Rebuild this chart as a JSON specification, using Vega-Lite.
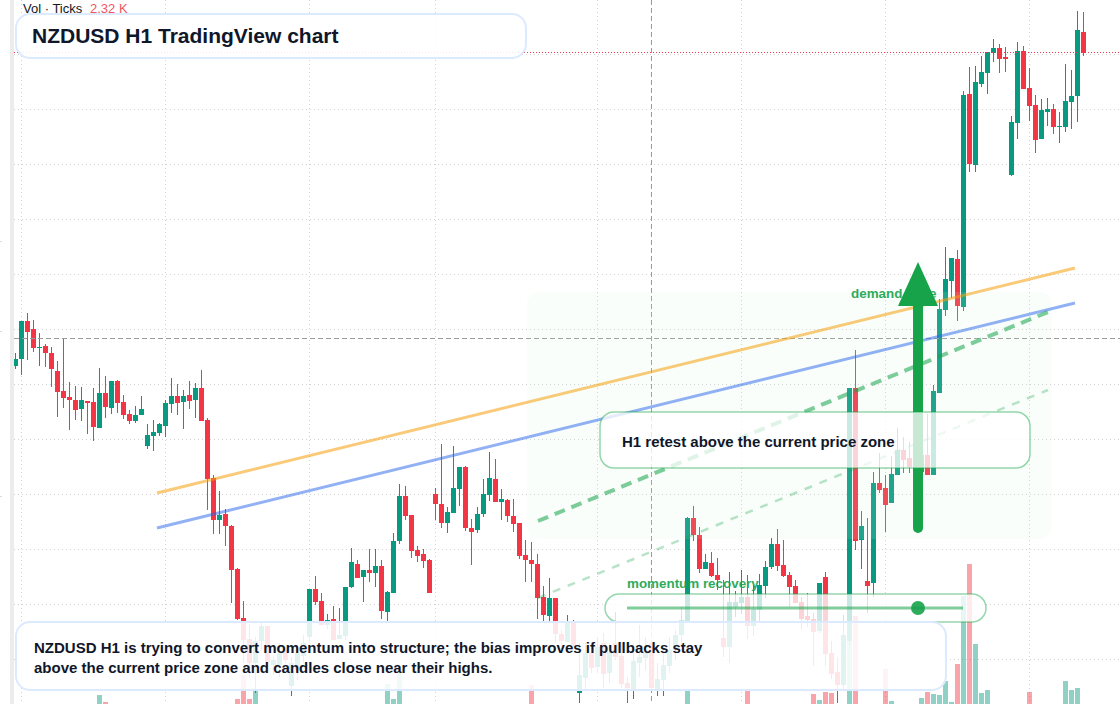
{
"$schema":"https://vega.github.io/schema/vega-lite/v6.json",
"width":1120,"height":704,
"autosize":{"type":"none"},
"padding":0,
"background":"#ffffff",
"config":{"view":{"stroke":null},"scale":{"continuousPadding":0},"text":{"font":"Liberation Sans"}},
"datasets":{
"candles":[
{"bar":0,"dir":"up","open":59634,"high":59647,"low":59631,"close":59641},
{"bar":1,"dir":"up","open":59641,"high":59679,"low":59625,"close":59679},
{"bar":2,"dir":"down","open":59679,"high":59687,"low":59640,"close":59668},
{"bar":3,"dir":"down","open":59671,"high":59680,"low":59648,"close":59652},
{"bar":4,"dir":"up","open":59652,"high":59667,"low":59634,"close":59653},
{"bar":5,"dir":"down","open":59654,"high":59656,"low":59633,"close":59647},
{"bar":6,"dir":"down","open":59647,"high":59653,"low":59613,"close":59631},
{"bar":7,"dir":"down","open":59629,"high":59639,"low":59583,"close":59608},
{"bar":8,"dir":"down","open":59609,"high":59661,"low":59592,"close":59602},
{"bar":9,"dir":"down","open":59603,"high":59618,"low":59570,"close":59600},
{"bar":10,"dir":"down","open":59600,"high":59614,"low":59580,"close":59590},
{"bar":11,"dir":"up","open":59591,"high":59613,"low":59579,"close":59600},
{"bar":12,"dir":"down","open":59599,"high":59599,"low":59566,"close":59597},
{"bar":13,"dir":"down","open":59598,"high":59612,"low":59559,"close":59573},
{"bar":14,"dir":"up","open":59572,"high":59632,"low":59572,"close":59607},
{"bar":15,"dir":"down","open":59607,"high":59624,"low":59582,"close":59593},
{"bar":16,"dir":"up","open":59592,"high":59619,"low":59586,"close":59619},
{"bar":17,"dir":"down","open":59619,"high":59620,"low":59587,"close":59597},
{"bar":18,"dir":"down","open":59598,"high":59605,"low":59581,"close":59585},
{"bar":19,"dir":"down","open":59586,"high":59590,"low":59576,"close":59579},
{"bar":20,"dir":"up","open":59579,"high":59594,"low":59577,"close":59585},
{"bar":21,"dir":"up","open":59585,"high":59604,"low":59585,"close":59591},
{"bar":22,"dir":"up","open":59554,"high":59576,"low":59551,"close":59565},
{"bar":23,"dir":"up","open":59564,"high":59580,"low":59549,"close":59568},
{"bar":24,"dir":"up","open":59567,"high":59577,"low":59564,"close":59576},
{"bar":25,"dir":"up","open":59574,"high":59600,"low":59563,"close":59597},
{"bar":26,"dir":"up","open":59596,"high":59622,"low":59587,"close":59604},
{"bar":27,"dir":"down","open":59604,"high":59616,"low":59585,"close":59597},
{"bar":28,"dir":"up","open":59598,"high":59610,"low":59571,"close":59604},
{"bar":29,"dir":"down","open":59605,"high":59619,"low":59591,"close":59599},
{"bar":30,"dir":"up","open":59600,"high":59617,"low":59582,"close":59612},
{"bar":31,"dir":"down","open":59612,"high":59630,"low":59579,"close":59579},
{"bar":32,"dir":"down","open":59580,"high":59582,"low":59490,"close":59521},
{"bar":33,"dir":"down","open":59522,"high":59525,"low":59466,"close":59480},
{"bar":34,"dir":"up","open":59480,"high":59509,"low":59466,"close":59485},
{"bar":35,"dir":"down","open":59486,"high":59491,"low":59454,"close":59474},
{"bar":36,"dir":"down","open":59474,"high":59475,"low":59397,"close":59430},
{"bar":37,"dir":"down","open":59431,"high":59432,"low":59380,"close":59381},
{"bar":38,"dir":"down","open":59382,"high":59399,"low":59337,"close":59360},
{"bar":39,"dir":"down","open":59361,"high":59376,"low":59322,"close":59337},
{"bar":40,"dir":"up","open":59337,"high":59363,"low":59307,"close":59359},
{"bar":41,"dir":"up","open":59359,"high":59378,"low":59350,"close":59374},
{"bar":42,"dir":"down","open":59374,"high":59374,"low":59330,"close":59338},
{"bar":43,"dir":"up","open":59335,"high":59343,"low":59325,"close":59340},
{"bar":44,"dir":"up","open":59335,"high":59357,"low":59323,"close":59347},
{"bar":45,"dir":"down","open":59350,"high":59353,"low":59337,"close":59340},
{"bar":46,"dir":"up","open":59314,"high":59343,"low":59304,"close":59337},
{"bar":47,"dir":"up","open":59330,"high":59353,"low":59320,"close":59347},
{"bar":48,"dir":"up","open":59344,"high":59365,"low":59337,"close":59357},
{"bar":49,"dir":"up","open":59363,"high":59411,"low":59357,"close":59411},
{"bar":50,"dir":"down","open":59411,"high":59424,"low":59395,"close":59398},
{"bar":51,"dir":"down","open":59399,"high":59407,"low":59375,"close":59375},
{"bar":52,"dir":"up","open":59375,"high":59386,"low":59371,"close":59380},
{"bar":53,"dir":"down","open":59381,"high":59394,"low":59360,"close":59360},
{"bar":54,"dir":"up","open":59361,"high":59392,"low":59361,"close":59365},
{"bar":55,"dir":"up","open":59364,"high":59413,"low":59360,"close":59413},
{"bar":56,"dir":"up","open":59413,"high":59452,"low":59412,"close":59438},
{"bar":57,"dir":"down","open":59436,"high":59440,"low":59422,"close":59422},
{"bar":58,"dir":"up","open":59423,"high":59430,"low":59398,"close":59430},
{"bar":59,"dir":"down","open":59430,"high":59451,"low":59418,"close":59427},
{"bar":60,"dir":"up","open":59427,"high":59451,"low":59413,"close":59434},
{"bar":61,"dir":"down","open":59434,"high":59440,"low":59381,"close":59389},
{"bar":62,"dir":"up","open":59388,"high":59409,"low":59378,"close":59408},
{"bar":63,"dir":"up","open":59407,"high":59467,"low":59407,"close":59459},
{"bar":64,"dir":"up","open":59459,"high":59516,"low":59456,"close":59504},
{"bar":65,"dir":"down","open":59504,"high":59514,"low":59480,"close":59484},
{"bar":66,"dir":"down","open":59485,"high":59485,"low":59442,"close":59449},
{"bar":67,"dir":"down","open":59450,"high":59454,"low":59438,"close":59444},
{"bar":68,"dir":"down","open":59446,"high":59451,"low":59432,"close":59439},
{"bar":69,"dir":"down","open":59440,"high":59441,"low":59407,"close":59407},
{"bar":70,"dir":"down","open":59506,"high":59512,"low":59480,"close":59496},
{"bar":71,"dir":"down","open":59496,"high":59556,"low":59472,"close":59477},
{"bar":72,"dir":"up","open":59477,"high":59493,"low":59467,"close":59488},
{"bar":73,"dir":"up","open":59487,"high":59554,"low":59487,"close":59512},
{"bar":74,"dir":"up","open":59511,"high":59533,"low":59494,"close":59533},
{"bar":75,"dir":"down","open":59533,"high":59534,"low":59469,"close":59472},
{"bar":76,"dir":"down","open":59472,"high":59481,"low":59435,"close":59468},
{"bar":77,"dir":"up","open":59470,"high":59493,"low":59467,"close":59486},
{"bar":78,"dir":"up","open":59486,"high":59521,"low":59483,"close":59506},
{"bar":79,"dir":"up","open":59505,"high":59548,"low":59499,"close":59522},
{"bar":80,"dir":"down","open":59521,"high":59541,"low":59498,"close":59498},
{"bar":81,"dir":"up","open":59498,"high":59511,"low":59480,"close":59501},
{"bar":82,"dir":"down","open":59500,"high":59501,"low":59478,"close":59484},
{"bar":83,"dir":"down","open":59484,"high":59501,"low":59468,"close":59476},
{"bar":84,"dir":"down","open":59477,"high":59477,"low":59441,"close":59444},
{"bar":85,"dir":"down","open":59445,"high":59460,"low":59418,"close":59440},
{"bar":86,"dir":"down","open":59440,"high":59458,"low":59418,"close":59436},
{"bar":87,"dir":"down","open":59436,"high":59446,"low":59381,"close":59402},
{"bar":88,"dir":"down","open":59403,"high":59414,"low":59378,"close":59385},
{"bar":89,"dir":"up","open":59384,"high":59422,"low":59378,"close":59402},
{"bar":90,"dir":"down","open":59402,"high":59402,"low":59357,"close":59366},
{"bar":91,"dir":"down","open":59366,"high":59370,"low":59353,"close":59359},
{"bar":92,"dir":"up","open":59358,"high":59385,"low":59358,"close":59378},
{"bar":93,"dir":"down","open":59377,"high":59380,"low":59353,"close":59355},
{"bar":94,"dir":"up","open":59307,"high":59357,"low":59297,"close":59325},
{"bar":95,"dir":"up","open":59322,"high":59357,"low":59310,"close":59347},
{"bar":96,"dir":"down","open":59347,"high":59353,"low":59327,"close":59332},
{"bar":97,"dir":"up","open":59333,"high":59363,"low":59327,"close":59353},
{"bar":98,"dir":"down","open":59357,"high":59367,"low":59312,"close":59326},
{"bar":99,"dir":"up","open":59327,"high":59357,"low":59317,"close":59348},
{"bar":100,"dir":"down","open":59357,"high":59388,"low":59340,"close":59343},
{"bar":101,"dir":"down","open":59344,"high":59357,"low":59312,"close":59316},
{"bar":102,"dir":"down","open":59317,"high":59323,"low":59297,"close":59312},
{"bar":103,"dir":"up","open":59310,"high":59357,"low":59301,"close":59339},
{"bar":104,"dir":"up","open":59337,"high":59375,"low":59323,"close":59343},
{"bar":105,"dir":"up","open":59342,"high":59363,"low":59330,"close":59347},
{"bar":106,"dir":"down","open":59357,"high":59360,"low":59310,"close":59312},
{"bar":107,"dir":"up","open":59310,"high":59337,"low":59304,"close":59321},
{"bar":108,"dir":"up","open":59320,"high":59353,"low":59304,"close":59335},
{"bar":109,"dir":"up","open":59334,"high":59363,"low":59327,"close":59350},
{"bar":110,"dir":"up","open":59350,"high":59370,"low":59340,"close":59365},
{"bar":111,"dir":"up","open":59365,"high":59393,"low":59353,"close":59380},
{"bar":112,"dir":"up","open":59378,"high":59483,"low":59378,"close":59482},
{"bar":113,"dir":"down","open":59482,"high":59494,"low":59459,"close":59465},
{"bar":114,"dir":"down","open":59465,"high":59473,"low":59427,"close":59431},
{"bar":115,"dir":"up","open":59431,"high":59446,"low":59431,"close":59438},
{"bar":116,"dir":"down","open":59437,"high":59448,"low":59423,"close":59424},
{"bar":117,"dir":"down","open":59425,"high":59442,"low":59410,"close":59420},
{"bar":118,"dir":"down","open":59362,"high":59420,"low":59343,"close":59353},
{"bar":119,"dir":"up","open":59353,"high":59428,"low":59337,"close":59398},
{"bar":120,"dir":"up","open":59393,"high":59409,"low":59383,"close":59398},
{"bar":121,"dir":"up","open":59397,"high":59430,"low":59386,"close":59403},
{"bar":122,"dir":"down","open":59403,"high":59425,"low":59361,"close":59374},
{"bar":123,"dir":"up","open":59374,"high":59415,"low":59364,"close":59391},
{"bar":124,"dir":"up","open":59390,"high":59426,"low":59379,"close":59415},
{"bar":125,"dir":"up","open":59414,"high":59439,"low":59402,"close":59433},
{"bar":126,"dir":"up","open":59433,"high":59462,"low":59431,"close":59456},
{"bar":127,"dir":"down","open":59456,"high":59471,"low":59429,"close":59434},
{"bar":128,"dir":"down","open":59435,"high":59460,"low":59423,"close":59424},
{"bar":129,"dir":"down","open":59425,"high":59428,"low":59393,"close":59413},
{"bar":130,"dir":"down","open":59414,"high":59420,"low":59397,"close":59397},
{"bar":131,"dir":"down","open":59398,"high":59403,"low":59371,"close":59381},
{"bar":132,"dir":"down","open":59384,"high":59407,"low":59373,"close":59380},
{"bar":133,"dir":"down","open":59381,"high":59387,"low":59334,"close":59368},
{"bar":134,"dir":"up","open":59369,"high":59417,"low":59367,"close":59417},
{"bar":135,"dir":"down","open":59423,"high":59428,"low":59334,"close":59346},
{"bar":136,"dir":"down","open":59347,"high":59359,"low":59321,"close":59326},
{"bar":137,"dir":"down","open":59328,"high":59343,"low":59297,"close":59315},
{"bar":138,"dir":"up","open":59315,"high":59385,"low":59310,"close":59365},
{"bar":139,"dir":"up","open":59359,"high":59612,"low":59355,"close":59612},
{"bar":140,"dir":"down","open":59612,"high":59650,"low":59450,"close":59459},
{"bar":141,"dir":"up","open":59460,"high":59489,"low":59431,"close":59474},
{"bar":142,"dir":"down","open":59419,"high":59482,"low":59387,"close":59414},
{"bar":143,"dir":"up","open":59417,"high":59528,"low":59403,"close":59517},
{"bar":144,"dir":"down","open":59517,"high":59547,"low":59507,"close":59510},
{"bar":145,"dir":"down","open":59512,"high":59525,"low":59468,"close":59495},
{"bar":146,"dir":"up","open":59497,"high":59544,"low":59497,"close":59526},
{"bar":147,"dir":"up","open":59525,"high":59572,"low":59525,"close":59550},
{"bar":148,"dir":"down","open":59550,"high":59563,"low":59527,"close":59540},
{"bar":149,"dir":"down","open":59542,"high":59558,"low":59527,"close":59533},
{"bar":150,"dir":"down","open":59544,"high":59547,"low":59527,"close":59529},
{"bar":151,"dir":"up","open":59528,"high":59550,"low":59526,"close":59545},
{"bar":152,"dir":"down","open":59545,"high":59586,"low":59525,"close":59525},
{"bar":153,"dir":"up","open":59525,"high":59615,"low":59525,"close":59609},
{"bar":154,"dir":"up","open":59607,"high":59701,"low":59607,"close":59691},
{"bar":155,"dir":"up","open":59690,"high":59753,"low":59684,"close":59721},
{"bar":156,"dir":"up","open":59719,"high":59742,"low":59702,"close":59742},
{"bar":157,"dir":"down","open":59741,"high":59750,"low":59679,"close":59694},
{"bar":158,"dir":"up","open":59693,"high":59909,"low":59689,"close":59905},
{"bar":159,"dir":"down","open":59906,"high":59933,"low":59828,"close":59836},
{"bar":160,"dir":"up","open":59835,"high":59934,"low":59828,"close":59918},
{"bar":161,"dir":"up","open":59916,"high":59944,"low":59913,"close":59928},
{"bar":162,"dir":"up","open":59927,"high":59948,"low":59906,"close":59948},
{"bar":163,"dir":"up","open":59947,"high":59961,"low":59938,"close":59952},
{"bar":164,"dir":"down","open":59952,"high":59956,"low":59927,"close":59941},
{"bar":165,"dir":"down","open":59943,"high":59953,"low":59928,"close":59941},
{"bar":166,"dir":"up","open":59825,"high":59884,"low":59824,"close":59878},
{"bar":167,"dir":"up","open":59877,"high":59958,"low":59861,"close":59949},
{"bar":168,"dir":"down","open":59949,"high":59954,"low":59911,"close":59911},
{"bar":169,"dir":"down","open":59912,"high":59932,"low":59879,"close":59894},
{"bar":170,"dir":"down","open":59895,"high":59905,"low":59847,"close":59860},
{"bar":171,"dir":"up","open":59861,"high":59901,"low":59861,"close":59890},
{"bar":172,"dir":"up","open":59888,"high":59902,"low":59874,"close":59891},
{"bar":173,"dir":"down","open":59891,"high":59896,"low":59866,"close":59873},
{"bar":174,"dir":"up","open":59873,"high":59888,"low":59857,"close":59874},
{"bar":175,"dir":"up","open":59873,"high":59936,"low":59868,"close":59899},
{"bar":176,"dir":"up","open":59898,"high":59930,"low":59871,"close":59904},
{"bar":177,"dir":"up","open":59904,"high":59989,"low":59878,"close":59970},
{"bar":178,"dir":"down","open":59968,"high":59988,"low":59944,"close":59947}
],
"volume":[
{"bar":14,"dir":"up","ticks":180},{"bar":15,"dir":"down","ticks":40},{"bar":37,"dir":"down","ticks":100},{"bar":38,"dir":"down","ticks":580},
{"bar":39,"dir":"down","ticks":100},{"bar":40,"dir":"up","ticks":260},{"bar":62,"dir":"up","ticks":400},{"bar":63,"dir":"up","ticks":100},
{"bar":64,"dir":"up","ticks":620},{"bar":86,"dir":"down","ticks":380},{"bar":112,"dir":"up","ticks":300},{"bar":122,"dir":"down","ticks":300},
{"bar":133,"dir":"down","ticks":200},{"bar":134,"dir":"up","ticks":80},{"bar":135,"dir":"down","ticks":240},{"bar":136,"dir":"down","ticks":220},
{"bar":139,"dir":"up","ticks":1260},{"bar":140,"dir":"down","ticks":1760},{"bar":145,"dir":"down","ticks":700},{"bar":146,"dir":"up","ticks":60},
{"bar":151,"dir":"up","ticks":120},{"bar":152,"dir":"down","ticks":240},{"bar":153,"dir":"up","ticks":200},{"bar":154,"dir":"up","ticks":180},
{"bar":155,"dir":"up","ticks":460},{"bar":156,"dir":"up","ticks":40},{"bar":157,"dir":"down","ticks":800},{"bar":158,"dir":"up","ticks":2160},
{"bar":159,"dir":"down","ticks":2800},{"bar":160,"dir":"up","ticks":1200},{"bar":161,"dir":"up","ticks":220},{"bar":162,"dir":"up","ticks":280},
{"bar":169,"dir":"down","ticks":240},{"bar":175,"dir":"up","ticks":460},{"bar":176,"dir":"up","ticks":280},{"bar":177,"dir":"up","ticks":320}
],
"hgrid":[{"price":59945.5},{"price":59890.5},{"price":59835.5},{"price":59780.5},{"price":59725.5},{"price":59670.5},{"price":59615.5},{"price":59560.5},{"price":59505.5},{"price":59450.5},{"price":59395.5},{"price":59340.5}],
"vgrid":[{"bar":1},{"bar":25},{"bar":49},{"bar":70},{"bar":97},{"bar":121},{"bar":145},{"bar":169}],
"pricetick":[{"price":59758.5},{"price":59668.5},{"price":59503.5}],
"orange":[{"bar":23.58,"price":59507},{"bar":176.58,"price":59732}],
"blue":[{"bar":23.58,"price":59472},{"bar":176.58,"price":59697}],
"dash1":[{"bar":87.08,"price":59479},{"bar":172.08,"price":59688}],
"dash2":[{"bar":87.08,"price":59402},{"bar":172.08,"price":59610}],
"head":[{"bar":147.08,"top":59694,"base":59694},{"bar":150.42,"top":59738,"base":59694},{"bar":153.75,"top":59694,"base":59694}]
},
"layer":[
{"layer":[
{"data":{"name":"hgrid"},"mark":{"type":"rule","color":"#d2d2d2","strokeDash":[1,3],"strokeWidth":1},
"encoding":{"y":{"field":"price","type":"quantitative","axis":null,"scale":{"domain":[59296,60000],"nice":false,"zero":false}},
"x":{"datum":-0.25,"type":"quantitative","axis":null,"scale":{"domain":[-2.5833,184.0833],"nice":false,"zero":false}},"x2":{"datum":184.0833}}},
{"data":{"name":"pricetick"},"mark":{"type":"rule","color":"#dddddd","strokeWidth":1},
"encoding":{"y":{"field":"price","type":"quantitative","axis":null,"scale":{"domain":[59296,60000],"nice":false,"zero":false}},
"x":{"datum":-2.5833,"type":"quantitative","axis":null,"scale":{"domain":[-2.5833,184.0833],"nice":false,"zero":false}},"x2":{"datum":-2.25}}},
{"data":{"name":"vgrid"},"mark":{"type":"rule","color":"#d2d2d2","strokeDash":[1,3],"strokeWidth":1},
"encoding":{"x":{"field":"bar","type":"quantitative","axis":null,"scale":{"domain":[-2.5833,184.0833],"nice":false,"zero":false}}}}
]},
{"data":{"name":"volume"},"mark":{"type":"bar","size":5,"opacity":0.45},
"encoding":{"x":{"field":"bar","type":"quantitative","axis":null,"scale":{"domain":[-2.5833,184.0833],"nice":false,"zero":false}},
"y":{"field":"ticks","type":"quantitative","axis":null,"scale":{"domain":[0,14080],"nice":false}},
"color":{"field":"dir","type":"nominal","legend":null,"scale":{"domain":["up","down"],"range":["#089981","#f23645"]}}}},
{"layer":[
{"data":{"name":"candles"},"mark":{"type":"rule","strokeWidth":1},
"encoding":{"x":{"field":"bar","type":"quantitative","axis":null,"scale":{"domain":[-2.5833,184.0833],"nice":false,"zero":false}},
"y":{"field":"high","type":"quantitative","axis":null,"scale":{"domain":[59296,60000],"nice":false,"zero":false}},"y2":{"field":"low"},
"color":{"field":"dir","type":"nominal","legend":null,"scale":{"domain":["up","down"],"range":["#089981","#f23645"]}}}},
{"data":{"name":"candles"},"mark":{"type":"bar","size":5},
"encoding":{"x":{"field":"bar","type":"quantitative","axis":null,"scale":{"domain":[-2.5833,184.0833],"nice":false,"zero":false}},
"y":{"field":"open","type":"quantitative","axis":null,"scale":{"domain":[59296,60000],"nice":false,"zero":false}},"y2":{"field":"close"},
"color":{"field":"dir","type":"nominal","legend":null,"scale":{"domain":["up","down"],"range":["#089981","#f23645"]}}}},
{"data":{"values":[{"x1":-0.9167,"x2":-0.25,"y1":59296,"y2":60000}]},"mark":{"type":"rect","fill":"#ececec"},
"encoding":{"x":{"field":"x1","type":"quantitative","axis":null,"scale":{"domain":[-2.5833,184.0833],"nice":false,"zero":false}},"x2":{"field":"x2"},
"y":{"field":"y1","type":"quantitative","axis":null,"scale":{"domain":[59296,60000],"nice":false,"zero":false}},"y2":{"field":"y2"}}},
{"data":{"values":[{"price":59947.5}]},"mark":{"type":"rule","color":"#f23645","strokeDash":[1,2],"strokeWidth":1},
"encoding":{"y":{"field":"price","type":"quantitative","axis":null,"scale":{"domain":[59296,60000],"nice":false,"zero":false}},
"x":{"datum":-0.25,"type":"quantitative","axis":null,"scale":{"domain":[-2.5833,184.0833],"nice":false,"zero":false}},"x2":{"datum":184.0833}}},
{"data":{"values":[{"price":59661.5}]},"mark":{"type":"rule","color":"#9a9a9a","strokeDash":[5,3],"strokeWidth":1},
"encoding":{"y":{"field":"price","type":"quantitative","axis":null,"scale":{"domain":[59296,60000],"nice":false,"zero":false}},
"x":{"datum":-0.25,"type":"quantitative","axis":null,"scale":{"domain":[-2.5833,184.0833],"nice":false,"zero":false}},"x2":{"datum":184.0833}}},
{"data":{"values":[{"bar":106}]},"mark":{"type":"rule","color":"#9a9a9a","strokeDash":[5,3],"strokeWidth":1},
"encoding":{"x":{"field":"bar","type":"quantitative","axis":null,"scale":{"domain":[-2.5833,184.0833],"nice":false,"zero":false}}}},
{"data":{"values":[{"x1":85.25,"x2":172.75,"y1":59461,"y2":59708}]},"mark":{"type":"rect","fill":"#cdf7de","fillOpacity":0.12,"cornerRadius":12},
"encoding":{"x":{"field":"x1","type":"quantitative","axis":null,"scale":{"domain":[-2.5833,184.0833],"nice":false,"zero":false}},"x2":{"field":"x2"},
"y":{"field":"y1","type":"quantitative","axis":null,"scale":{"domain":[59296,60000],"nice":false,"zero":false}},"y2":{"field":"y2"}}},
{"data":{"name":"orange"},"mark":{"type":"line","color":"#f59e0b","opacity":0.55,"strokeWidth":3},
"encoding":{"x":{"field":"bar","type":"quantitative","axis":null,"scale":{"domain":[-2.5833,184.0833],"nice":false,"zero":false}},
"y":{"field":"price","type":"quantitative","axis":null,"scale":{"domain":[59296,60000],"nice":false,"zero":false}}}},
{"data":{"name":"blue"},"mark":{"type":"line","color":"#2563eb","opacity":0.5,"strokeWidth":3},
"encoding":{"x":{"field":"bar","type":"quantitative","axis":null,"scale":{"domain":[-2.5833,184.0833],"nice":false,"zero":false}},
"y":{"field":"price","type":"quantitative","axis":null,"scale":{"domain":[59296,60000],"nice":false,"zero":false}}}},
{"data":{"name":"dash1"},"mark":{"type":"line","color":"#16a34a","opacity":0.55,"strokeWidth":4,"strokeDash":[11,7]},
"encoding":{"x":{"field":"bar","type":"quantitative","axis":null,"scale":{"domain":[-2.5833,184.0833],"nice":false,"zero":false}},
"y":{"field":"price","type":"quantitative","axis":null,"scale":{"domain":[59296,60000],"nice":false,"zero":false}}}},
{"data":{"name":"dash2"},"mark":{"type":"line","color":"#16a34a","opacity":0.3,"strokeWidth":2.5,"strokeDash":[8,8]},
"encoding":{"x":{"field":"bar","type":"quantitative","axis":null,"scale":{"domain":[-2.5833,184.0833],"nice":false,"zero":false}},
"y":{"field":"price","type":"quantitative","axis":null,"scale":{"domain":[59296,60000],"nice":false,"zero":false}}}},
{"data":{"values":[{"bar":139.25,"price":59702,"label":"demand zone"}]},"mark":{"type":"text","align":"left","baseline":"alphabetic","fontSize":13.4,"fontWeight":"bold","color":"#16a34a","opacity":0.9},
"encoding":{"x":{"field":"bar","type":"quantitative","axis":null,"scale":{"domain":[-2.5833,184.0833],"nice":false,"zero":false}},
"y":{"field":"price","type":"quantitative","axis":null,"scale":{"domain":[59296,60000],"nice":false,"zero":false}},"text":{"field":"label"}}},
{"data":{"values":[{"bar":150.42,"from":59472,"to":59694}]},"mark":{"type":"rule","color":"#16a34a","strokeWidth":10,"strokeCap":"round"},
"encoding":{"x":{"field":"bar","type":"quantitative","axis":null,"scale":{"domain":[-2.5833,184.0833],"nice":false,"zero":false}},
"y":{"field":"from","type":"quantitative","axis":null,"scale":{"domain":[59296,60000],"nice":false,"zero":false}},"y2":{"field":"to"}}},
{"data":{"name":"head"},"mark":{"type":"area","color":"#16a34a"},
"encoding":{"x":{"field":"bar","type":"quantitative","axis":null,"scale":{"domain":[-2.5833,184.0833],"nice":false,"zero":false}},
"y":{"field":"top","type":"quantitative","axis":null,"scale":{"domain":[59296,60000],"nice":false,"zero":false}},"y2":{"field":"base"}}},
{"data":{"values":[{"x1":97.42,"x2":169.08,"y1":59532,"y2":59588}]},"mark":{"type":"rect","fill":"#ffffff","fillOpacity":0.76,"stroke":"#16a34a","strokeOpacity":0.45,"strokeWidth":1.5,"cornerRadius":14},
"encoding":{"x":{"field":"x1","type":"quantitative","axis":null,"scale":{"domain":[-2.5833,184.0833],"nice":false,"zero":false}},"x2":{"field":"x2"},
"y":{"field":"y1","type":"quantitative","axis":null,"scale":{"domain":[59296,60000],"nice":false,"zero":false}},"y2":{"field":"y2"}}},
{"data":{"values":[{"x1":98.25,"x2":161.75,"y1":59378,"y2":59406}]},"mark":{"type":"rect","fill":"#ffffff","fillOpacity":0.78,"stroke":"#16a34a","strokeOpacity":0.45,"strokeWidth":1.5,"cornerRadius":14},
"encoding":{"x":{"field":"x1","type":"quantitative","axis":null,"scale":{"domain":[-2.5833,184.0833],"nice":false,"zero":false}},"x2":{"field":"x2"},
"y":{"field":"y1","type":"quantitative","axis":null,"scale":{"domain":[59296,60000],"nice":false,"zero":false}},"y2":{"field":"y2"}}},
{"data":{"values":[{"bar":150.42,"price":59392}]},"mark":{"type":"point","filled":true,"color":"#16a34a","opacity":0.9,"size":196},
"encoding":{"x":{"field":"bar","type":"quantitative","axis":null,"scale":{"domain":[-2.5833,184.0833],"nice":false,"zero":false}},
"y":{"field":"price","type":"quantitative","axis":null,"scale":{"domain":[59296,60000],"nice":false,"zero":false}}}},
{"data":{"values":[{"bar":101.92,"price":59392},{"bar":157.92,"price":59392}]},"mark":{"type":"line","color":"#16a34a","opacity":0.55,"strokeWidth":3},
"encoding":{"x":{"field":"bar","type":"quantitative","axis":null,"scale":{"domain":[-2.5833,184.0833],"nice":false,"zero":false}},
"y":{"field":"price","type":"quantitative","axis":null,"scale":{"domain":[59296,60000],"nice":false,"zero":false}}}},
{"data":{"values":[{"x1":0.083,"x2":155.08,"y1":59310,"y2":59378},{"x1":0.083,"x2":85.08,"y1":59942,"y2":59986}]},"mark":{"type":"rect","fill":"#ffffff","fillOpacity":0.88,"stroke":"#dbeafe","strokeWidth":2,"cornerRadius":14},
"encoding":{"x":{"field":"x1","type":"quantitative","axis":null,"scale":{"domain":[-2.5833,184.0833],"nice":false,"zero":false}},"x2":{"field":"x2"},
"y":{"field":"y1","type":"quantitative","axis":null,"scale":{"domain":[59296,60000],"nice":false,"zero":false}},"y2":{"field":"y2"}}},
{"data":{"values":[{"bar":1.25,"price":59987,"label":"Vol · Ticks"}]},"mark":{"type":"text","align":"left","baseline":"alphabetic","fontSize":13,"color":"#131722"},
"encoding":{"x":{"field":"bar","type":"quantitative","axis":null,"scale":{"domain":[-2.5833,184.0833],"nice":false,"zero":false}},
"y":{"field":"price","type":"quantitative","axis":null,"scale":{"domain":[59296,60000],"nice":false,"zero":false}},"text":{"field":"label"}}},
{"data":{"values":[{"bar":12.42,"price":59987,"label":"2.32 K"}]},"mark":{"type":"text","align":"left","baseline":"alphabetic","fontSize":13,"color":"#f23645","opacity":0.85},
"encoding":{"x":{"field":"bar","type":"quantitative","axis":null,"scale":{"domain":[-2.5833,184.0833],"nice":false,"zero":false}},
"y":{"field":"price","type":"quantitative","axis":null,"scale":{"domain":[59296,60000],"nice":false,"zero":false}},"text":{"field":"label"}}},
{"data":{"values":[{"bar":2.75,"price":59957,"label":"NZDUSD H1 TradingView chart"}]},"mark":{"type":"text","align":"left","baseline":"alphabetic","fontSize":21,"fontWeight":"bold","color":"#0f172a"},
"encoding":{"x":{"field":"bar","type":"quantitative","axis":null,"scale":{"domain":[-2.5833,184.0833],"nice":false,"zero":false}},
"y":{"field":"price","type":"quantitative","axis":null,"scale":{"domain":[59296,60000],"nice":false,"zero":false}},"text":{"field":"label"}}},
{"data":{"values":[{"bar":3.08,"price":59347,"label":"NZDUSD H1 is trying to convert momentum into structure; the bias improves if pullbacks stay"},{"bar":3.08,"price":59327,"label":"above the current price zone and candles close near their highs."},{"bar":101.08,"price":59553,"label":"H1 retest above the current price zone"}]},"mark":{"type":"text","align":"left","baseline":"alphabetic","fontSize":15,"fontWeight":"bold","color":"#0f172a"},
"encoding":{"x":{"field":"bar","type":"quantitative","axis":null,"scale":{"domain":[-2.5833,184.0833],"nice":false,"zero":false}},
"y":{"field":"price","type":"quantitative","axis":null,"scale":{"domain":[59296,60000],"nice":false,"zero":false}},"text":{"field":"label"}}},
{"data":{"values":[{"bar":101.92,"price":59412,"label":"momentum recovery"}]},"mark":{"type":"text","align":"left","baseline":"alphabetic","fontSize":13.4,"fontWeight":"bold","color":"#16a34a","opacity":0.9},
"encoding":{"x":{"field":"bar","type":"quantitative","axis":null,"scale":{"domain":[-2.5833,184.0833],"nice":false,"zero":false}},
"y":{"field":"price","type":"quantitative","axis":null,"scale":{"domain":[59296,60000],"nice":false,"zero":false}},"text":{"field":"label"}}}
]}
],
"resolve":{"scale":{"y":"independent","x":"shared"}}
}
